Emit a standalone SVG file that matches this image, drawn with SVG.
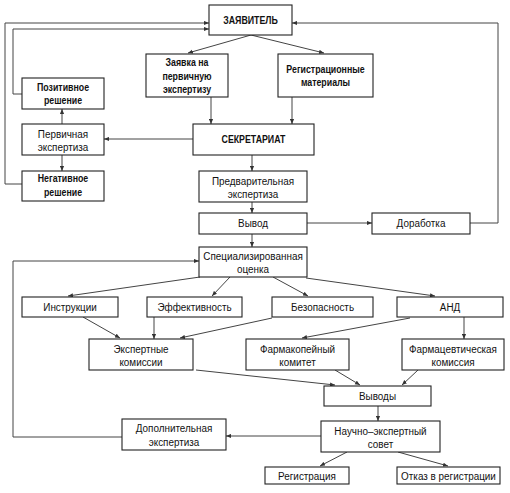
<svg xmlns="http://www.w3.org/2000/svg" width="510" height="493" viewBox="0 0 510 493">
<style>
.b{fill:#fff;stroke:#222;stroke-width:1.1}
.t{font-family:"Liberation Sans",Arial,sans-serif;font-size:11px;fill:#111;text-anchor:middle}
.bd{font-weight:bold}
.c{fill:none;stroke:#444;stroke-width:1}
</style>
<defs>
<marker id="a" viewBox="0 0 6 6" refX="6" refY="3" markerWidth="5" markerHeight="5" orient="auto" markerUnits="userSpaceOnUse">
<path d="M0,0.5 L6,3 L0,5.5 Z" fill="#333"/>
</marker>
</defs>
<rect width="510" height="493" fill="#fff"/>
<g id="connectors">
<path class="c" d="M251,35 L188,53" marker-end="url(#a)"/>
<path class="c" d="M251,35 L324,53" marker-end="url(#a)"/>
<path class="c" d="M211,97 L211,124" marker-end="url(#a)"/>
<path class="c" d="M292,97 L292,124" marker-end="url(#a)"/>
<path class="c" d="M193,139 L104,139" marker-end="url(#a)"/>
<path class="c" d="M62,124 L62,109" marker-end="url(#a)"/>
<path class="c" d="M62,155 L62,171" marker-end="url(#a)"/>
<path class="c" d="M22,94 L13,94 L13,29 L209,29" marker-end="url(#a)"/>
<path class="c" d="M22,184 L5,184 L5,23 L209,23" marker-end="url(#a)"/>
<path class="c" d="M470,223 L498,223 L498,23 L292,23" marker-end="url(#a)"/>
<path class="c" d="M252,155 L252,171" marker-end="url(#a)"/>
<path class="c" d="M252,202 L252,213" marker-end="url(#a)"/>
<path class="c" d="M307,223 L372,223" marker-end="url(#a)"/>
<path class="c" d="M252,234 L252,247" marker-end="url(#a)"/>
<path class="c" d="M122,437 L13,437 L13,261 L199,261" marker-end="url(#a)"/>
<path class="c" d="M200,277 L68,296" marker-end="url(#a)"/>
<path class="c" d="M230,277 L212,296" marker-end="url(#a)"/>
<path class="c" d="M273,277 L308,296" marker-end="url(#a)"/>
<path class="c" d="M306,278 L435,296" marker-end="url(#a)"/>
<path class="c" d="M83,317 L120,338" marker-end="url(#a)"/>
<path class="c" d="M154,317 L154,339" marker-end="url(#a)"/>
<path class="c" d="M272,318 L180,338" marker-end="url(#a)"/>
<path class="c" d="M410,318 L302,338" marker-end="url(#a)"/>
<path class="c" d="M464,317 L464,339" marker-end="url(#a)"/>
<path class="c" d="M196,370 L335,385" marker-end="url(#a)"/>
<path class="c" d="M335,370 L360,385" marker-end="url(#a)"/>
<path class="c" d="M418,370 L402,385" marker-end="url(#a)"/>
<path class="c" d="M378,406 L378,421" marker-end="url(#a)"/>
<path class="c" d="M321,436 L226,436" marker-end="url(#a)"/>
<path class="c" d="M347,452 L320,466" marker-end="url(#a)"/>
<path class="c" d="M398,452 L448,466" marker-end="url(#a)"/>
</g>
<g id="zayavitel"><rect class="b" x="209" y="5" width="83" height="30"/><text class="t bd" transform="translate(250.5,24) scale(0.8,1)">ЗАЯВИТЕЛЬ</text></g>
<g id="zayavka"><rect class="b" x="146" y="54" width="82" height="43"/><text class="t bd" transform="translate(187,66) scale(0.8,1)">Заявка на</text><text class="t bd" transform="translate(187,80) scale(0.8,1)">первичную</text><text class="t bd" transform="translate(187,93) scale(0.8,1)">экспертизу</text></g>
<g id="regmat"><rect class="b" x="278" y="54" width="95" height="43"/><text class="t bd" transform="translate(325.5,73) scale(0.8,1)">Регистрационные</text><text class="t bd" transform="translate(325.5,86) scale(0.8,1)">материалы</text></g>
<g id="sekretariat"><rect class="b" x="193" y="124" width="121" height="31"/><text class="t bd" transform="translate(253.5,143) scale(0.8,1)">СЕКРЕТАРИАТ</text></g>
<g id="pozitiv"><rect class="b" x="22" y="78" width="82" height="31"/><text class="t bd" transform="translate(63,91) scale(0.8,1)">Позитивное</text><text class="t bd" transform="translate(63,104) scale(0.8,1)">решение</text></g>
<g id="pervich"><rect class="b" x="22" y="124" width="82" height="31"/><text class="t" transform="translate(63,138) scale(0.9,1)">Первичная</text><text class="t" transform="translate(63,151) scale(0.9,1)">экспертиза</text></g>
<g id="negativ"><rect class="b" x="22" y="171" width="82" height="30"/><text class="t bd" transform="translate(63,182) scale(0.8,1)">Негативное</text><text class="t bd" transform="translate(63,196) scale(0.8,1)">решение</text></g>
<g id="predv"><rect class="b" x="199" y="171" width="108" height="31"/><text class="t" transform="translate(253,185) scale(0.9,1)">Предварительная</text><text class="t" transform="translate(253,198) scale(0.9,1)">экспертиза</text></g>
<g id="vyvod"><rect class="b" x="199" y="213" width="108" height="21"/><text class="t" transform="translate(253,227) scale(0.9,1)">Вывод</text></g>
<g id="dorabotka"><rect class="b" x="372" y="213" width="98" height="21"/><text class="t" transform="translate(421,227) scale(0.9,1)">Доработка</text></g>
<g id="spec"><rect class="b" x="199" y="247" width="108" height="30"/><text class="t" transform="translate(253,260) scale(0.9,1)">Специализированная</text><text class="t" transform="translate(253,273) scale(0.9,1)">оценка</text></g>
<g id="instr"><rect class="b" x="22" y="297" width="96" height="20"/><text class="t" transform="translate(70,311) scale(0.9,1)">Инструкции</text></g>
<g id="eff"><rect class="b" x="147" y="297" width="95" height="20"/><text class="t" transform="translate(194.5,311) scale(0.9,1)">Эффективность</text></g>
<g id="bezop"><rect class="b" x="272" y="297" width="101" height="20"/><text class="t" transform="translate(322.5,311) scale(0.9,1)">Безопасность</text></g>
<g id="and"><rect class="b" x="397" y="297" width="106" height="20"/><text class="t" transform="translate(450,311) scale(0.9,1)">АНД</text></g>
<g id="ekspkom"><rect class="b" x="89" y="339" width="104" height="31"/><text class="t" transform="translate(141,353) scale(0.9,1)">Экспертные</text><text class="t" transform="translate(141,366) scale(0.9,1)">комиссии</text></g>
<g id="farmakop"><rect class="b" x="246" y="339" width="103" height="31"/><text class="t" transform="translate(297.5,353) scale(0.9,1)">Фармакопейный</text><text class="t" transform="translate(297.5,366) scale(0.9,1)">комитет</text></g>
<g id="farmacev"><rect class="b" x="402" y="339" width="102" height="31"/><text class="t" transform="translate(453,353) scale(0.9,1)">Фармацевтическая</text><text class="t" transform="translate(453,366) scale(0.9,1)">комиссия</text></g>
<g id="vyvody"><rect class="b" x="324" y="386" width="107" height="20"/><text class="t" transform="translate(377.5,400) scale(0.9,1)">Выводы</text></g>
<g id="nauch"><rect class="b" x="321" y="421" width="119" height="31"/><text class="t" transform="translate(380.5,435) scale(0.9,1)">Научно–экспертный</text><text class="t" transform="translate(380.5,448) scale(0.9,1)">совет</text></g>
<g id="dop"><rect class="b" x="122" y="419" width="104" height="31"/><text class="t" transform="translate(174,432) scale(0.9,1)">Дополнительная</text><text class="t" transform="translate(174,446) scale(0.9,1)">экспертиза</text></g>
<g id="reg"><rect class="b" x="265" y="467" width="84" height="17"/><text class="t" transform="translate(307,479.5) scale(0.9,1)">Регистрация</text></g>
<g id="otkaz"><rect class="b" x="397" y="467" width="103" height="17"/><text class="t" transform="translate(448.5,479.5) scale(0.9,1)">Отказ в регистрации</text></g>
</svg>
